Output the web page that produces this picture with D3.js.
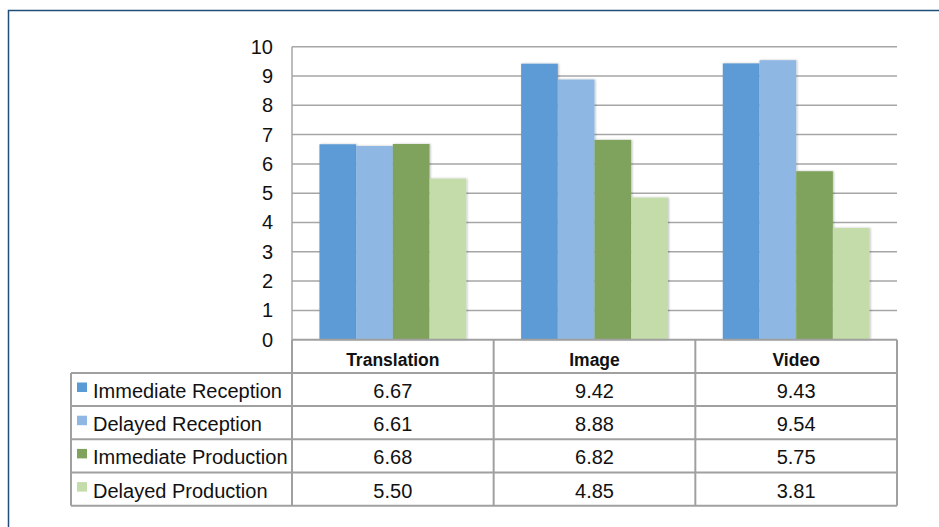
<!DOCTYPE html>
<html><head><meta charset="utf-8">
<script src="https://cdn.jsdelivr.net/npm/d3@7"></script>
<style>body{margin:0;background:#fff}svg{display:block}</style>
</head><body>
<svg id="c" width="939" height="527"></svg>
<script>
const categories = ["Translation", "Image", "Video"];
const seriesNames = ["Immediate Reception", "Delayed Reception", "Immediate Production", "Delayed Production"];
const immediateReception = [6.67, 9.42, 9.43];
const delayedReception = [6.61, 8.88, 9.54];
const immediateProduction = [6.68, 6.82, 5.75];
const delayedProduction = [5.50, 4.85, 3.81];
const yTicks = [0,1,2,3,4,5,6,7,8,9,10];
const colors = ["#5b9bd5", "#8eb8e3", "#7fa35c", "#c3dcaa"];
const series = [immediateReception, delayedReception, immediateProduction, delayedProduction];

const svg = d3.select("#c");
const font = "'Liberation Sans', Arial, sans-serif";
const L = 292, R = 897, T = 46.7, B = 339.7;
const tableLeft = 71, rowH = 33.2;

// frame
svg.append("path").attr("d", `M8.5,527 V10.5 H939`).attr("fill","none").attr("stroke","#1f4e79").attr("stroke-width",1.5);

const x = d3.scaleBand().domain(categories).range([L, R]).paddingInner(0).paddingOuter(0);
const x1 = d3.scaleBand().domain(seriesNames).range([0, x.bandwidth()]).paddingOuter(0.748).paddingInner(0);
const y = d3.scaleLinear().domain([0, 10]).range([B, T]);

// gridlines
svg.append("g").selectAll("line").data(yTicks.filter(d=>d>0)).join("line")
  .attr("x1", L).attr("x2", R).attr("y1", d=>y(d)).attr("y2", d=>y(d))
  .attr("stroke", "#a6a6a6").attr("stroke-width", 1.5);
svg.append("line").attr("x1", L).attr("x2", L).attr("y1", T).attr("y2", B).attr("stroke","#a6a6a6").attr("stroke-width",1.5);

// y axis labels
const yAxis = d3.axisLeft(y).tickValues(yTicks).tickSize(0).tickPadding(19).tickFormat(d3.format("d"));
const ga = svg.append("g").attr("transform", `translate(${L},0)`).call(yAxis);
ga.select(".domain").remove();
ga.selectAll("text").attr("font-family", font).attr("font-size", 20).attr("fill", "#111");

// shadow filter
const defs = svg.append("defs");
const f = defs.append("filter").attr("id","sh").attr("x","-10%").attr("y","-10%").attr("width","130%").attr("height","130%");
f.append("feDropShadow").attr("dx",1).attr("dy",0).attr("stdDeviation",1.2).attr("flood-color","#000").attr("flood-opacity",0.25);

// bars
const g = svg.append("g");
categories.forEach((c, ci) => {
  series.forEach((s, si) => {
    g.append("rect")
      .attr("x", x(c) + x1(seriesNames[si]))
      .attr("width", x1.bandwidth())
      .attr("y", y(s[ci]))
      .attr("height", y(0) - y(s[ci]))
      .attr("fill", colors[si])
      .attr("filter", "url(#sh)");
  });
});

// table
const tg = svg.append("g");
const lineC = "#a0a0a0";
const rowsTop = B + rowH;
const tBottom = B + rowH * 5;
tg.append("line").attr("x1", L).attr("x2", R).attr("y1", B).attr("y2", B).attr("stroke", lineC).attr("stroke-width", 2);
for (let i = 1; i <= 5; i++) {
  tg.append("line").attr("x1", tableLeft).attr("x2", R).attr("y1", B + rowH*i).attr("y2", B + rowH*i).attr("stroke", lineC).attr("stroke-width", 2);
}
tg.append("line").attr("x1", tableLeft).attr("x2", tableLeft).attr("y1", rowsTop).attr("y2", tBottom).attr("stroke", lineC).attr("stroke-width", 2);
[L, ...categories.map(c => x(c) + x.bandwidth())].forEach(xx => {
  tg.append("line").attr("x1", xx).attr("x2", xx).attr("y1", B).attr("y2", tBottom).attr("stroke", lineC).attr("stroke-width", 2);
});
tg.selectAll("text.h").data(categories).join("text").attr("class","h")
  .attr("x", d => x(d) + x.bandwidth()/2).attr("y", B + rowH/2 + 10)
  .attr("text-anchor","middle").attr("font-family", font).attr("font-weight","bold").attr("font-size", 17.5).attr("fill","#111")
  .text(d => d);
seriesNames.forEach((n, si) => {
  const cy = rowsTop + rowH * si + rowH/2;
  tg.append("rect").attr("x", 77).attr("y", cy - 7).attr("width", 10).attr("height", 9.5).attr("fill", colors[si]);
  tg.append("text").attr("x", 93).attr("y", cy + 8.5).attr("font-family", font).attr("font-size", 20).attr("fill", "#111").text(n);
  categories.forEach((c, ci) => {
    tg.append("text").attr("x", x(c) + x.bandwidth()/2).attr("y", cy + 8.5)
      .attr("text-anchor","middle").attr("font-family", font).attr("font-size", 20).attr("fill","#111")
      .text(series[si][ci].toFixed(2));
  });
});
</script>
</body></html>
